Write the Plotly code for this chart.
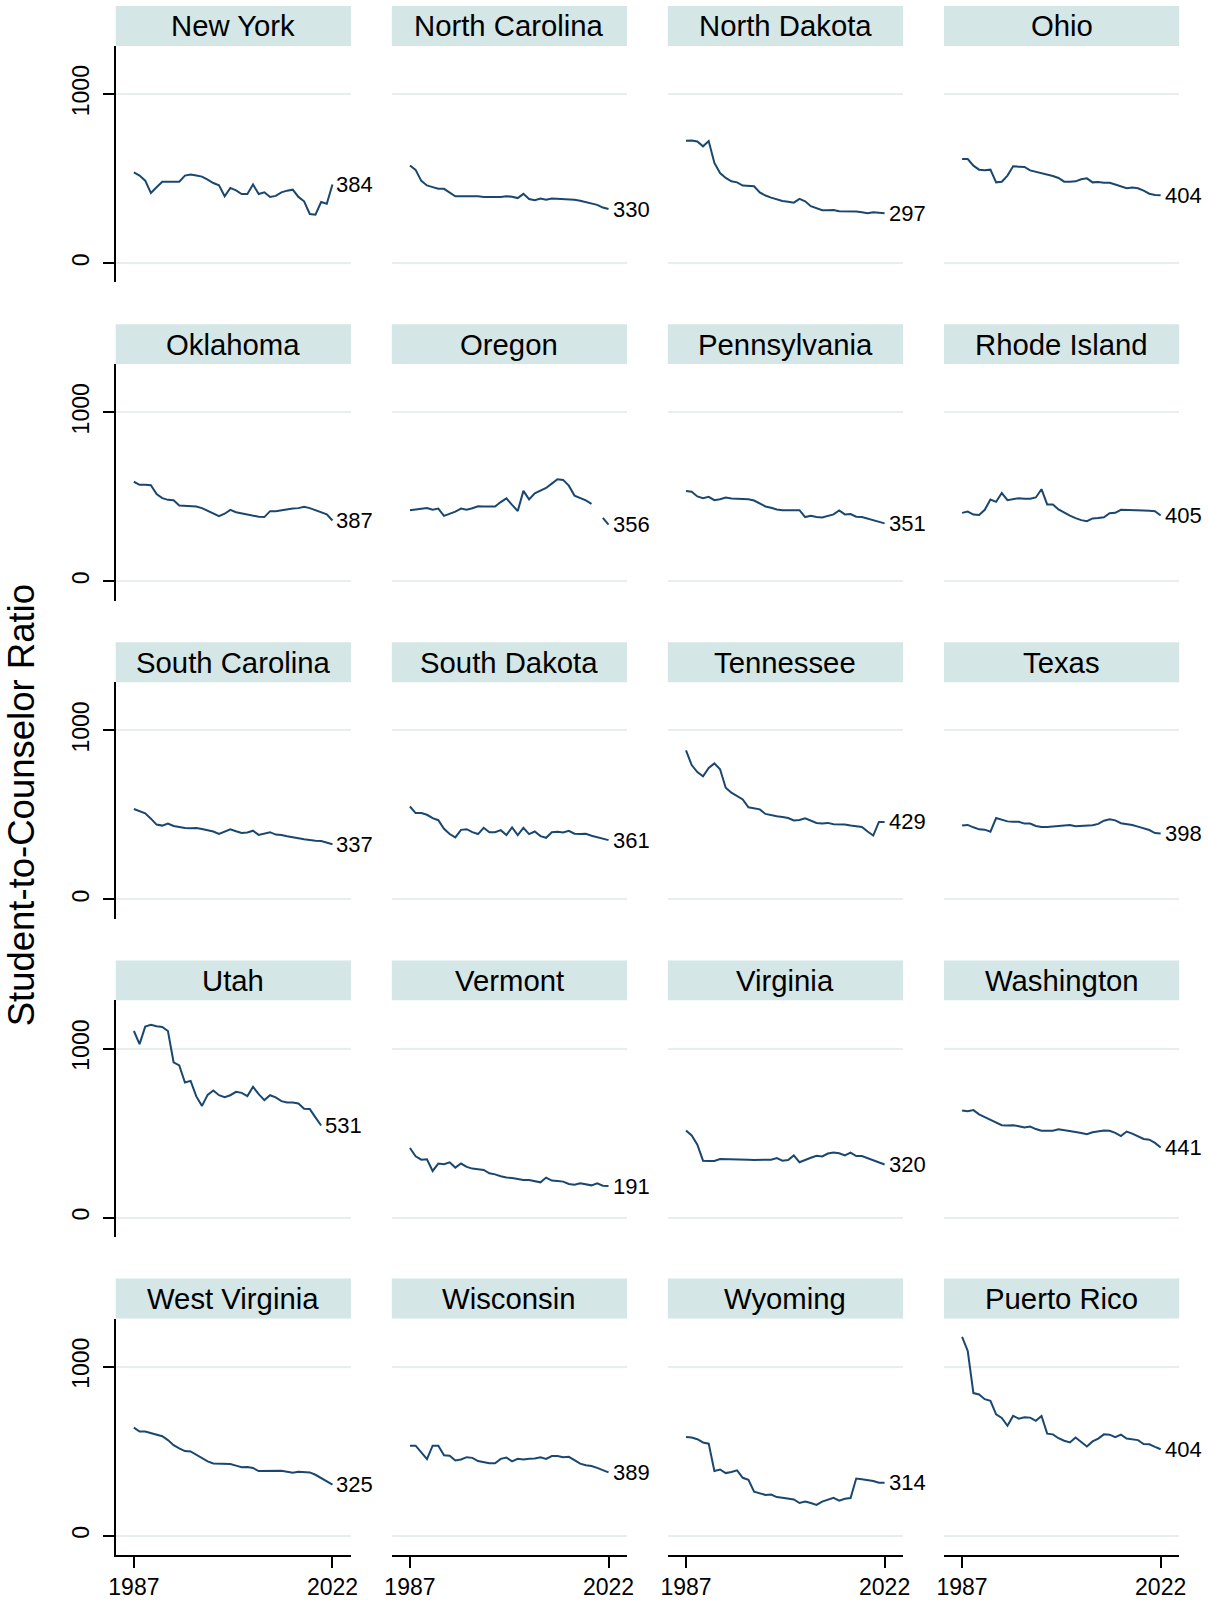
import plotly.graph_objects as go

years = list(range(1987, 2023))

states = ["New York", "North Carolina", "North Dakota", "Ohio",
          "Oklahoma", "Oregon", "Pennsylvania", "Rhode Island",
          "South Carolina", "South Dakota", "Tennessee", "Texas",
          "Utah", "Vermont", "Virginia", "Washington",
          "West Virginia", "Wisconsin", "Wyoming", "Puerto Rico"]

end_labels = [384, 330, 297, 404, 387, 356, 351, 405, 337, 361,
              429, 398, 531, 191, 320, 441, 325, 389, 314, 404]

new_york = [537, 518, 488, 415, 449, 482, 482, 482, 482, 518, 524, 518, 512, 494, 474, 461, 396, 445,
            431, 409, 409, 465, 409, 419, 392, 398, 419, 429, 435, 392, 366, 291, 287, 362, 352, 465]
north_carolina = [578, 552, 487, 460, 450, 440, 440, 416, 396, 396, 396, 396, 396, 391, 391, 391, 391, 396,
                  393, 385, 410, 379, 373, 383, 375, 383, 381, 379, 379, 375, 369, 361, 357, 345, 329, 320]
north_dakota = [724, 726, 720, 691, 722, 593, 533, 504, 484, 478, 459, 455, 455, 419, 400, 388, 376, 368,
                364, 358, 380, 366, 337, 327, 313, 313, 315, 307, 307, 305, 305, 301, 295, 301, 297, 295]
ohio = [616, 616, 577, 553, 549, 553, 478, 482, 518, 573, 571, 569, 549, 541, 531, 524, 516, 504,
        482, 482, 484, 496, 502, 478, 480, 476, 476, 465, 453, 443, 447, 443, 429, 411, 404, 402]
oklahoma = [589, 571, 571, 569, 516, 492, 482, 480, 449, 447, 445, 443, 433, 417, 400, 386, 400, 423,
            409, 402, 396, 390, 382, 380, 415, 415, 421, 427, 431, 433, 441, 433, 421, 409, 396, 360]
oregon = [420, 426, 428, 434, 424, 430, 387, 398, 412, 430, 424, 432, 444, 442, 442, 442, 469, 491,
          452, 416, 535, 485, 521, 535, 552, 578, 604, 600, 566, 507, 491, 479, 458, None, 375, 335]
pennsylvania = [535, 530, 502, 492, 500, 480, 486, 496, 490, 488, 490, 486, 478, 459, 443, 435, 425, 421,
                419, 421, 421, 380, 388, 380, 378, 388, 396, 419, 396, 398, 382, 380, 370, 362, 354, 343]
rhode_island = [405, 413, 395, 393, 423, 484, 470, 522, 480, 484, 492, 488, 488, 496, 545, 455, 455, 425,
                405, 389, 374, 362, 356, 372, 374, 379, 403, 405, 423, 423, 419, 421, 419, 417, 415, 389]
south_carolina = [535, 524, 510, 478, 443, 437, 449, 435, 427, 423, 421, 423, 417, 409, 402, 388, 402, 415,
                  404, 394, 396, 407, 382, 392, 398, 384, 382, 374, 366, 362, 356, 350, 348, 346, 337, 327]
south_dakota = [550, 511, 511, 501, 481, 469, 418, 387, 367, 412, 416, 398, 387, 424, 398, 398, 410, 381,
                426, 381, 424, 387, 402, 375, 365, 398, 400, 396, 406, 389, 387, 389, 377, 369, 361, 351]
tennessee = [882, 795, 754, 728, 778, 805, 770, 661, 632, 610, 592, 545, 537, 533, 506, 498, 492, 488,
             482, 467, 470, 480, 467, 453, 449, 453, 445, 445, 443, 437, 435, 429, 402, 378, 459, 459]
texas = [437, 441, 427, 415, 413, 401, 482, 472, 462, 460, 460, 449, 449, 435, 429, 429, 431, 435,
         437, 441, 433, 435, 437, 439, 447, 466, 474, 468, 451, 447, 441, 431, 423, 411, 393, 391]
utah = [1104, 1026, 1130, 1140, 1132, 1128, 1104, 919, 900, 799, 809, 717, 661, 726, 752, 724, 713, 724,
        744, 738, 719, 774, 730, 695, 724, 711, 689, 681, 681, 675, 644, 642, 593, 545, None, None]
vermont = [412, 363, 343, 345, 276, 320, 316, 327, 296, 320, 300, 290, 286, 282, 262, 256, 245, 237,
           235, 229, 223, 223, 215, 209, 237, 219, 217, 213, 199, 195, 203, 197, 191, 203, 189, 187]
virginia = [516, 486, 432, 337, 335, 335, 347, 347, 347, 345, 345, 343, 341, 343, 343, 343, 352, 337,
            341, 368, 328, 343, 354, 366, 362, 379, 385, 381, 368, 385, 364, 364, 352, 339, 324, 314]
washington = [634, 629, 636, 611, 594, 579, 566, 547, 545, 547, 541, 533, 539, 524, 514, 514, 514, 522,
              518, 514, 507, 501, 493, 505, 512, 516, 514, 501, 482, 509, 497, 482, 465, 461, 442, 415]
west_virginia = [640, 617, 617, 607, 601, 589, 566, 536, 517, 501, 499, 479, 456, 440, 428, 426, 426, 424,
                 415, 405, 407, 401, 383, 383, 383, 383, 385, 379, 373, 379, 375, 375, 361, 342, 324, 303]
wisconsin = [533, 533, 493, 453, 533, 533, 476, 474, 446, 451, 465, 461, 442, 434, 429, 429, 455, 463,
             440, 455, 451, 455, 457, 465, 455, 472, 472, 465, 467, 448, 427, 417, 413, 402, 389, 375]
wyoming = [585, 581, 571, 552, 545, 383, 392, 371, 377, 387, 343, 331, 261, 253, 242, 244, 229, 225,
           221, 215, 194, 202, 194, 183, 202, 215, 225, 208, 219, 223, 339, 335, 331, 324, 314, 314]
puerto_rico = [1177, 1093, 844, 836, 808, 798, 718, 697, 651, 709, 693, 701, 699, 680, 709, 604, 600, 577,
               562, 552, 581, 552, 528, 558, 575, 600, 598, 583, 598, 575, 571, 566, 543, 541, 526, 512]

series = [new_york, north_carolina, north_dakota, ohio,
          oklahoma, oregon, pennsylvania, rhode_island,
          south_carolina, south_dakota, tennessee, texas,
          utah, vermont, virginia, washington,
          west_virginia, wisconsin, wyoming, puerto_rico]

x_ticks = [1987, 2022]
y_ticks = [0, 1000]

W, H = 1208, 1600
LEFT0, COLSTEP, PW = 110, 279.3, 238
TOP0, ROWSTEP, HDR, PH = 6, 318.75, 40, 237
LINE = "#1a476f"
HEADER_BG = "#d4e6e5"
GRID = "#e8eeee"
FONT = "Liberation Sans, Arial, Helvetica, sans-serif"

fig = go.Figure()
layout = dict(width=W, height=H, autosize=False,
              margin=dict(l=0, r=0, t=0, b=0),
              paper_bgcolor="white", plot_bgcolor="white",
              showlegend=False, font=dict(family=FONT, color="black"))
shapes, annotations = [], []

for i, (name, vals) in enumerate(zip(states, series)):
    r, c = divmod(i, 4)
    k = "" if i == 0 else str(i + 1)
    xl = LEFT0 + c * COLSTEP
    xr = xl + PW
    htop = TOP0 + r * ROWSTEP
    ptop = htop + HDR
    pbot = ptop + PH
    fig.add_trace(go.Scatter(x=years, y=vals, mode="lines",
                             line=dict(color=LINE, width=2),
                             xaxis="x" + k, yaxis="y" + k,
                             hoverinfo="x+y"))
    bottom = r == 4
    left = c == 0
    layout["xaxis" + k] = dict(
        domain=[xl / W, xr / W], anchor="y" + k, range=[1983.8, 2025.26],
        showgrid=False, zeroline=False,
        showline=bottom, linecolor="black", linewidth=1.5,
        ticks="outside" if bottom else "", ticklen=11, tickwidth=1.5, tickcolor="black",
        tickmode="array", tickvals=x_ticks, showticklabels=bottom,
        tickfont=dict(size=23, color="black", family=FONT))
    layout["yaxis" + k] = dict(
        domain=[1 - pbot / H, 1 - ptop / H], anchor="x" + k, range=[-114, 1285],
        showgrid=True, gridcolor=GRID, gridwidth=2, zeroline=False,
        showline=left, linecolor="black", linewidth=1.5,
        ticks="outside" if left else "", ticklen=11, tickwidth=1.5, tickcolor="black",
        tickmode="array", tickvals=y_ticks, showticklabels=left, tickangle=-90,
        ticklabelstandoff=5,
        tickfont=dict(size=23, color="black", family=FONT))
    shapes.append(dict(type="rect", xref="paper", yref="paper",
                       x0=xl / W, x1=xr / W, y0=1 - (htop + HDR) / H, y1=1 - htop / H,
                       fillcolor=HEADER_BG, line=dict(width=0), layer="below"))
    annotations.append(dict(text=name, xref="paper", yref="paper",
                            x=(xl + xr) / 2 / W, y=1 - (htop + HDR / 2) / H,
                            xanchor="center", yanchor="middle", showarrow=False,
                            font=dict(size=29.3, color="black", family=FONT)))
    last = max(j for j, v in enumerate(vals) if v is not None)
    annotations.append(dict(text=str(end_labels[i]), xref="x" + k, yref="y" + k,
                            x=years[last], y=vals[last], xanchor="left", yanchor="middle",
                            xshift=2, showarrow=False,
                            font=dict(size=22, color="black", family=FONT)))

annotations.append(dict(text="Student-to-Counselor Ratio", xref="paper", yref="paper",
                        x=15 / W, y=1 - 807 / H, xanchor="center", yanchor="middle",
                        textangle=-90, showarrow=False,
                        font=dict(size=36.5, color="black", family=FONT)))

layout["shapes"] = shapes
layout["annotations"] = annotations
fig.update_layout(**layout)
fig.write_html("out.html", config={"displayModeBar": False},
               post_script="document.body.style.margin='0';document.body.style.overflow='hidden';")
